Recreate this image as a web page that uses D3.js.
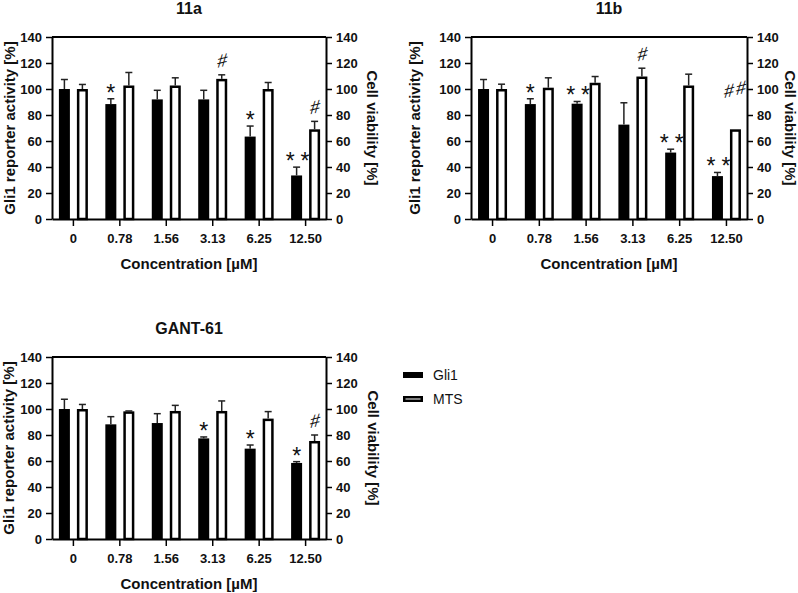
<!DOCTYPE html>
<html>
<head>
<meta charset="utf-8">
<script src="https://cdn.jsdelivr.net/npm/d3@7"></script>
<style>
  body { margin: 0; background: white; }
</style>
</head>
<body>
<script>
// concentrations on the x axis
const conc = ['0', '0.78', '1.56', '3.13', '6.25', '12.50'];
const yTicks = [0, 20, 40, 60, 80, 100, 120, 140];
const legendLabels = ['Gli1', 'MTS'];

// 11a
const a_gli = [100, 88.4, 92, 92, 63.4, 33.5];
const a_gliErr = [7.3, 4.1, 7, 7, 8.1, 6.4];
const a_mts = [100, 102.7, 102.7, 107.8, 100, 69];
const a_mtsErr = [3.5, 10, 5.9, 3.1, 5, 6.1];
const a_gliSig = ['', '*', '', '', '*', '**'];
const a_mtsSig = ['', '', '', '#', '', '#'];

// 11b
const b_gli = [100, 88.4, 88.7, 72.6, 51.1, 33];
const b_gliErr = [7.3, 4.1, 1.7, 16.8, 2.6, 2.8];
const b_mts = [100, 101, 104.8, 109.6, 102.7, 69];
const b_mtsErr = [3.7, 7.6, 4.8, 6.4, 8.7, 0];
const b_gliSig = ['', '*', '**', '', '**', '**'];
const b_mtsSig = ['', '', '', '#', '', '##'];

// GANT-61
const g_gli = [100, 88.2, 89.2, 77.4, 69.5, 58.5];
const g_gliErr = [7.5, 5.9, 7.2, 1.1, 2.8, 1];
const g_mts = [100, 98.2, 98.5, 98.5, 92.6, 75.4];
const g_mtsErr = [3.5, 0.3, 4.3, 7.7, 5.4, 4.6];
const g_gliSig = ['', '', '', '*', '*', '*'];
const g_mtsSig = ['', '', '', '', '', '#'];

const font = 'Liberation Sans, Arial, sans-serif';

const svg = d3.select('body').append('svg')
  .attr('width', 798)
  .attr('height', 593);

drawPanel = (p) => {
  let x = d3.scalePoint()
    .domain(conc)
    .range([p.left, p.right])
    .padding(0.45);

  let y = d3.scaleLinear()
    .domain([0, 140])
    .range([p.bottom, p.top]);

  let g = svg.append('g');

  // black bars (Gli1)
  g.selectAll('.gli')
    .data(p.gli)
    .enter()
    .append('rect')
    .attr('class', 'gli')
    .attr('x', (d, i) => x(conc[i]) - 14)
    .attr('width', 11)
    .attr('y', d => y(d))
    .attr('height', d => p.bottom - y(d))
    .attr('fill', 'black');

  // white bars (MTS)
  g.selectAll('.mts')
    .data(p.mts)
    .enter()
    .append('rect')
    .attr('class', 'mts')
    .attr('x', (d, i) => x(conc[i]) + 5.25)
    .attr('width', 8.5)
    .attr('y', d => y(d) + 1.25)
    .attr('height', d => p.bottom - y(d) - 1.25)
    .attr('fill', 'white')
    .attr('stroke', 'black')
    .attr('stroke-width', 2.5);

  // error bars, upper half only
  let errs = [];
  p.gli.forEach((v, i) => errs.push({ cx: x(conc[i]) - 8.5, v: v, e: p.gliErr[i] }));
  p.mts.forEach((v, i) => errs.push({ cx: x(conc[i]) + 9.5, v: v, e: p.mtsErr[i] }));
  errs = errs.filter(d => d.e > 0);

  g.selectAll('.err-line')
    .data(errs)
    .enter()
    .append('line')
    .attr('x1', d => d.cx)
    .attr('x2', d => d.cx)
    .attr('y1', d => y(d.v))
    .attr('y2', d => y(d.v + d.e))
    .attr('stroke', '#222')
    .attr('stroke-width', 1.5);

  g.selectAll('.err-cap')
    .data(errs)
    .enter()
    .append('line')
    .attr('x1', d => d.cx - 3.5)
    .attr('x2', d => d.cx + 3.5)
    .attr('y1', d => y(d.v + d.e))
    .attr('y2', d => y(d.v + d.e))
    .attr('stroke', '#222')
    .attr('stroke-width', 1.5);

  // significance marks
  let marks = [];
  p.gliSig.forEach((s, i) => {
    if (s) marks.push({ cx: x(conc[i]) - 8.5, top: p.gli[i] + p.gliErr[i], s: s });
  });
  p.mtsSig.forEach((s, i) => {
    if (s) marks.push({ cx: x(conc[i]) + 9.5, top: p.mts[i] + p.mtsErr[i] + (s.length > 1 ? 20 : 0), s: s });
  });

  g.selectAll('.star')
    .data(marks.filter(d => d.s.includes('*')))
    .enter()
    .append('text')
    .text(d => d.s)
    .attr('x', d => d.cx + (d.s.length > 1 ? 4 : 0))
    .attr('y', d => y(d.top) - 8 + 10)
    .attr('text-anchor', 'middle')
    .attr('font-family', font)
    .attr('font-size', 23)
    .attr('letter-spacing', d => d.s.length > 1 ? 6 : 0)
    .attr('fill', '#111');

  // sharp signs: '#' sheared so the bars slope like a music sharp
  g.selectAll('.sharp')
    .data(marks.filter(d => !d.s.includes('*')))
    .enter()
    .append('text')
    .text(d => d.s)
    .attr('transform', d => `translate(${d.cx}, ${y(d.top) - 8}) skewY(-14) skewX(-6)`)
    .attr('text-anchor', 'middle')
    .attr('font-family', font)
    .attr('font-size', 18)
    .attr('letter-spacing', d => d.s.length > 1 ? 2 : 0)
    .attr('fill', '#111');

  // axes
  let left = g.append('g')
    .attr('transform', `translate(${p.left}, 0)`)
    .call(d3.axisLeft(y).tickValues(yTicks).tickSize(6).tickPadding(4).tickSizeOuter(0));

  let right = g.append('g')
    .attr('transform', `translate(${p.right}, 0)`)
    .call(d3.axisRight(y).tickValues(yTicks).tickSize(6).tickPadding(4).tickSizeOuter(0));

  let bottom = g.append('g')
    .attr('transform', `translate(0, ${p.bottom})`)
    .call(d3.axisBottom(x).tickSize(7).tickPadding(8).tickSizeOuter(0));

  [left, right, bottom].forEach(ax => {
    ax.attr('font-family', font)
      .attr('font-size', 13)
      .attr('font-weight', 'bold');
    ax.select('.domain').attr('stroke-width', 2);
    ax.selectAll('.tick line').attr('stroke-width', 1.5);
    ax.selectAll('.tick text').attr('fill', '#111');
  });

  // top frame line
  g.append('line')
    .attr('x1', p.left)
    .attr('x2', p.right)
    .attr('y1', y(140))
    .attr('y2', y(140))
    .attr('stroke', 'black')
    .attr('stroke-width', 2);

  // titles and labels
  g.append('text')
    .text(p.title)
    .attr('x', (p.left + p.right) / 2)
    .attr('y', p.top - 23)
    .attr('text-anchor', 'middle')
    .attr('font-family', font)
    .attr('font-size', 16)
    .attr('font-weight', 'bold')
    .attr('fill', '#111');

  g.append('text')
    .text('Concentration [\u00B5M]')
    .attr('x', (p.left + p.right) / 2)
    .attr('y', p.bottom + 50)
    .attr('text-anchor', 'middle')
    .attr('font-family', font)
    .attr('font-size', 15)
    .attr('font-weight', 'bold')
    .attr('fill', '#111');

  g.append('text')
    .text('Gli1 reporter activity [%]')
    .attr('transform', `translate(${p.left - p.ylab}, ${(p.top + p.bottom) / 2}) rotate(-90)`)
    .attr('dy', '0.35em')
    .attr('text-anchor', 'middle')
    .attr('font-family', font)
    .attr('font-size', 15)
    .attr('font-weight', 'bold')
    .attr('fill', '#111');

  g.append('text')
    .text('Cell viability [%]')
    .attr('transform', `translate(${p.right + p.rlab}, ${(p.top + p.bottom) / 2}) rotate(90)`)
    .attr('dy', '0.35em')
    .attr('text-anchor', 'middle')
    .attr('font-family', font)
    .attr('font-size', 15)
    .attr('font-weight', 'bold')
    .attr('fill', '#111');
};

drawPanel({ title: '11a', left: 52, right: 326, top: 37, bottom: 219, ylab: 42, rlab: 46,
  gli: a_gli, gliErr: a_gliErr, mts: a_mts, mtsErr: a_mtsErr, gliSig: a_gliSig, mtsSig: a_mtsSig });

drawPanel({ title: '11b', left: 471, right: 747, top: 37, bottom: 219, ylab: 56, rlab: 43,
  gli: b_gli, gliErr: b_gliErr, mts: b_mts, mtsErr: b_mtsErr, gliSig: b_gliSig, mtsSig: b_mtsSig });

drawPanel({ title: 'GANT-61', left: 52, right: 326, top: 357, bottom: 539, ylab: 43, rlab: 47,
  gli: g_gli, gliErr: g_gliErr, mts: g_mts, mtsErr: g_mtsErr, gliSig: g_gliSig, mtsSig: g_mtsSig });

// legend
let legend = svg.append('g')
  .attr('transform', 'translate(403, 372)');

legend.selectAll('rect')
  .data(legendLabels)
  .enter()
  .append('rect')
  .attr('x', (d, i) => i == 0 ? 0 : 1.25)
  .attr('y', (d, i) => i * 24 + (i == 0 ? 0 : 1.25))
  .attr('width', (d, i) => i == 0 ? 20 : 17.5)
  .attr('height', (d, i) => i == 0 ? 6 : 3.5)
  .attr('fill', (d, i) => i == 0 ? 'black' : 'white')
  .attr('stroke', (d, i) => i == 0 ? 'none' : 'black')
  .attr('stroke-width', 2.5);

legend.selectAll('text')
  .data(legendLabels)
  .enter()
  .append('text')
  .text(d => d)
  .attr('x', 30)
  .attr('y', (d, i) => i * 24 + 8)
  .attr('font-family', font)
  .attr('font-size', 14)
  .attr('fill', '#111');
</script>
</body>
</html>
